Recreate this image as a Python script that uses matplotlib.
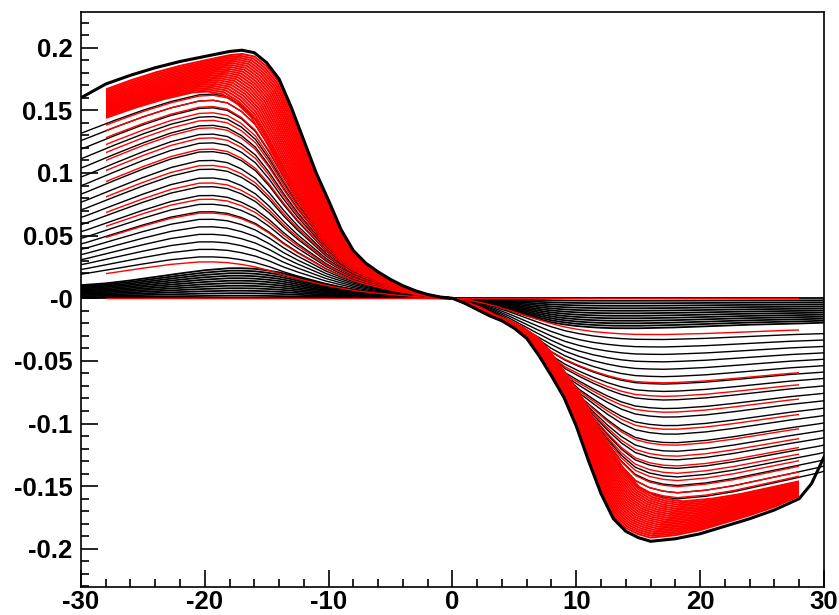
"""Family of antisymmetric response curves (black and red sets), ROOT-style frame."""

import numpy as np
import matplotlib
matplotlib.use("Agg")
import matplotlib.pyplot as plt
from matplotlib.patches import Rectangle
from matplotlib.ticker import MultipleLocator

X_GRID = [-30, -28, -26, -24, -22, -20, -18, -17, -16, -15, -14, -13, -12, -11, -10,
          -9, -8, -7, -6, -5, -4, -3, -2, -1, 0, 1, 2, 3, 4, 5, 6, 7, 8, 9, 10,
          11, 12, 13, 14, 15, 16, 17, 18, 20, 22, 24, 26, 28, 29, 30]

# outermost (largest) curve
OUTER_CURVE = [0.160, 0.171, 0.178, 0.184, 0.189, 0.193, 0.197, 0.198, 0.196, 0.188,
               0.175, 0.152, 0.126, 0.100, 0.078, 0.055, 0.038, 0.028, 0.021, 0.015,
               0.010, 0.006, 0.003, 0.001, 0.0, -0.004, -0.009, -0.014, -0.018, -0.024,
               -0.032, -0.046, -0.062, -0.079, -0.102, -0.130, -0.156, -0.176, -0.186, -0.191,
               -0.194, -0.193, -0.192, -0.188, -0.182, -0.176, -0.169, -0.160, -0.148, -0.127]

# shape of the small curves, relative to their peak
INNER_SHAPE = [0.42, 0.48, 0.58, 0.70, 0.82, 0.93, 1.0, 1.0, 0.98, 0.93,
               0.86, 0.76, 0.64, 0.54, 0.45, 0.36, 0.29, 0.22, 0.17, 0.13,
               0.09, 0.06, 0.03, 0.01, 0.0, -0.05, -0.12, -0.22, -0.34, -0.47,
               -0.60, -0.72, -0.82, -0.89, -0.94, -0.97, -0.99, -1.0, -1.0, -1.0,
               -0.99, -0.98, -0.97, -0.94, -0.91, -0.88, -0.86, -0.84, -0.83, -0.82]

# peak heights of the curves in each set
BLACK_LOW = [0.0, 0.002, 0.004, 0.006, 0.008, 0.010, 0.012, 0.014, 0.016, 0.018,
             0.020, 0.022, 0.024]
BLACK_MID = [0.033, 0.039, 0.045, 0.051, 0.057, 0.063, 0.069, 0.075, 0.082, 0.089,
             0.096, 0.103, 0.110, 0.117, 0.124, 0.131, 0.138, 0.145, 0.152, 0.158, 0.163]
RED_MID = [0.0, 0.029, 0.068, 0.079, 0.092, 0.106, 0.119, 0.128, 0.136, 0.142,
           0.148, 0.153, 0.158, 0.162]
RED_TOP = [0.165, 0.1665, 0.168, 0.1695, 0.171, 0.1725, 0.174, 0.1755, 0.177, 0.1785,
           0.180, 0.1815, 0.183, 0.1845, 0.186, 0.1875, 0.189, 0.1905, 0.192, 0.1935, 0.195]

BLACK_RANGE = (-30, 30)
RED_RANGE = (-28, 28)

X_TICKS = [-30, -20, -10, 0, 10, 20, 30]
X_LABELS = ["-30", "-20", "-10", "0", "10", "20", "30"]
Y_TICKS = [-0.2, -0.15, -0.1, -0.05, 0.0, 0.05, 0.1, 0.15, 0.2]
Y_LABELS = ["-0.2", "-0.15", "-0.1", "-0.05", "-0", "0.05", "0.1", "0.15", "0.2"]

x = np.array(X_GRID, dtype=float)
outer = np.array(OUTER_CURVE)
peak = outer.max()
outer_shape = outer / peak
inner_shape = np.array(INNER_SHAPE)


def curve(amp, stretch=1.0):
    # big curves look like the outer one, small ones like the inner bump;
    # none of them may pass outside the outer curve
    t = (amp / peak) ** 1.5
    y = amp * ((1 - t) * inner_shape + t * outer_shape)
    mag = np.minimum(np.abs(y), np.abs(outer))
    return x / stretch, np.sign(y) * mag


fig = plt.figure(figsize=(8.39, 6.15), dpi=100)
ax = fig.add_axes([0.0965, 0.0455, 0.8855, 0.935])


def draw(amps, color, xr, lw, stretch=None):
    clip = Rectangle((xr[0], -1), xr[1] - xr[0], 2, transform=ax.transData)
    for a in amps:
        s = 1.0 if stretch is None else stretch(a)
        xs, ys = curve(a, s)
        ln, = ax.plot(xs, ys, color=color, lw=lw, solid_joinstyle="round")
        ln.set_clip_path(clip)


draw(BLACK_LOW, "black", BLACK_RANGE, 1.3)
draw(BLACK_MID, "black", BLACK_RANGE, 1.0, lambda a: 0.88)
draw(RED_MID, "red", RED_RANGE, 1.0, lambda a: 0.88)
draw(RED_TOP, "red", RED_RANGE, 1.4, lambda a: 0.86 + 0.14 * (a - 0.165) / 0.03)
ax.plot(x, outer, color="black", lw=2.2)

ax.set_xlim(-30, 30)
ax.set_ylim(-0.2305, 0.2285)
ax.set_xticks(X_TICKS, X_LABELS)
ax.set_yticks(Y_TICKS, Y_LABELS)
ax.xaxis.set_minor_locator(MultipleLocator(2))
ax.yaxis.set_minor_locator(MultipleLocator(0.01))
ax.tick_params(which="both", direction="in", top=False, right=False, width=1.2)
ax.tick_params(which="major", length=12)
ax.tick_params(which="minor", length=6)
ax.tick_params(axis="y", pad=6)
ax.tick_params(axis="x", pad=2)
for lab in ax.get_xticklabels() + ax.get_yticklabels():
    lab.set_fontfamily("Liberation Sans")
    lab.set_fontweight("bold")
    lab.set_fontsize(18.5)
for sp in ax.spines.values():
    sp.set_linewidth(1.2)

fig.savefig("out.png", dpi=100)
